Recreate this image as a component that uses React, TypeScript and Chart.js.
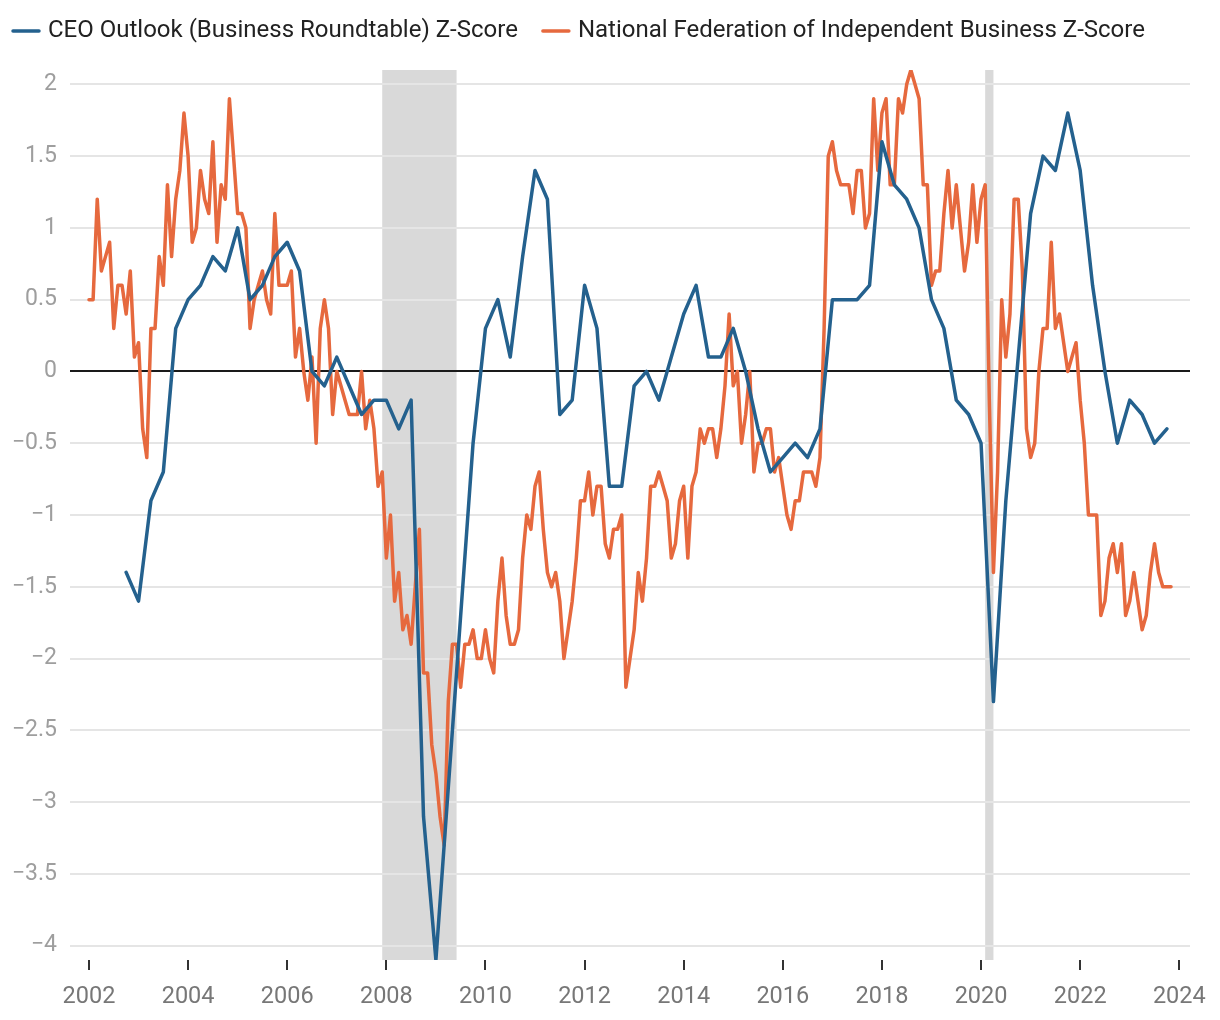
import React, { useEffect, useRef } from "react";
import { Chart, registerables } from "chart.js";

Chart.register(...registerables);

// ---------------- DATA ----------------
const SERIES_LABELS = [
  "CEO Outlook (Business Roundtable) Z-Score",
  "National Federation of Independent Business Z-Score",
];

// CEO Outlook, quarterly, first point Q4 2002
const CEO_START_YEAR = 2002.75;
const CEO_VALUES = [
  -1.4,
  -1.6, -0.9, -0.7, 0.3, // 2003
  0.5, 0.6, 0.8, 0.7, // 2004
  1.0, 0.5, 0.6, 0.8, // 2005
  0.9, 0.7, 0.0, -0.1, // 2006
  0.1, -0.1, -0.3, -0.2, // 2007
  -0.2, -0.4, -0.2, -3.1, // 2008
  -4.1, -2.9, -1.7, -0.5, // 2009
  0.3, 0.5, 0.1, 0.8, // 2010
  1.4, 1.2, -0.3, -0.2, // 2011
  0.6, 0.3, -0.8, -0.8, // 2012
  -0.1, 0.0, -0.2, 0.1, // 2013
  0.4, 0.6, 0.1, 0.1, // 2014
  0.3, 0.0, -0.4, -0.7, // 2015
  -0.6, -0.5, -0.6, -0.4, // 2016
  0.5, 0.5, 0.5, 0.6, // 2017
  1.6, 1.3, 1.2, 1.0, // 2018
  0.5, 0.3, -0.2, -0.3, // 2019
  -0.5, -2.3, -0.9, 0.1, // 2020
  1.1, 1.5, 1.4, 1.8, // 2021
  1.4, 0.6, 0.0, -0.5, // 2022
  -0.2, -0.3, -0.5, -0.4, // 2023
];

// NFIB, monthly, first point Jan 2002
const NFIB_START_YEAR = 2002;
const NFIB_VALUES = [
  0.5, 0.5, 1.2, 0.7, 0.8, 0.9, 0.3, 0.6, 0.6, 0.4, 0.7, 0.1, // 2002
  0.2, -0.4, -0.6, 0.3, 0.3, 0.8, 0.6, 1.3, 0.8, 1.2, 1.4, 1.8, // 2003
  1.5, 0.9, 1.0, 1.4, 1.2, 1.1, 1.6, 0.9, 1.3, 1.2, 1.9, 1.5, // 2004
  1.1, 1.1, 1.0, 0.3, 0.5, 0.6, 0.7, 0.5, 0.4, 1.1, 0.6, 0.6, // 2005
  0.6, 0.7, 0.1, 0.3, 0.0, -0.2, 0.1, -0.5, 0.3, 0.5, 0.3, -0.3, // 2006
  0.0, -0.1, -0.2, -0.3, -0.3, -0.3, 0.0, -0.4, -0.2, -0.4, -0.8, -0.7, // 2007
  -1.3, -1.0, -1.6, -1.4, -1.8, -1.7, -1.9, -1.5, -1.1, -2.1, -2.1, -2.6, // 2008
  -2.8, -3.1, -3.3, -2.3, -1.9, -1.9, -2.2, -1.9, -1.9, -1.8, -2.0, -2.0, // 2009
  -1.8, -2.0, -2.1, -1.6, -1.3, -1.7, -1.9, -1.9, -1.8, -1.3, -1.0, -1.1, // 2010
  -0.8, -0.7, -1.1, -1.4, -1.5, -1.4, -1.6, -2.0, -1.8, -1.6, -1.3, -0.9, // 2011
  -0.9, -0.7, -1.0, -0.8, -0.8, -1.2, -1.3, -1.1, -1.1, -1.0, -2.2, -2.0, // 2012
  -1.8, -1.4, -1.6, -1.3, -0.8, -0.8, -0.7, -0.8, -0.9, -1.3, -1.2, -0.9, // 2013
  -0.8, -1.3, -0.8, -0.7, -0.4, -0.5, -0.4, -0.4, -0.6, -0.4, -0.1, 0.4, // 2014
  -0.1, 0.0, -0.5, -0.3, 0.0, -0.7, -0.5, -0.5, -0.4, -0.4, -0.7, -0.6, // 2015
  -0.8, -1.0, -1.1, -0.9, -0.9, -0.7, -0.7, -0.7, -0.8, -0.6, 0.3, 1.5, // 2016
  1.6, 1.4, 1.3, 1.3, 1.3, 1.1, 1.4, 1.4, 1.0, 1.1, 1.9, 1.4, // 2017
  1.8, 1.9, 1.3, 1.3, 1.9, 1.8, 2.0, 2.1, 2.0, 1.9, 1.3, 1.3, // 2018
  0.6, 0.7, 0.7, 1.1, 1.4, 1.0, 1.3, 1.0, 0.7, 0.9, 1.3, 0.9, // 2019
  1.2, 1.3, -0.2, -1.4, -0.7, 0.5, 0.1, 0.4, 1.2, 1.2, 0.7, -0.4, // 2020
  -0.6, -0.5, 0.0, 0.3, 0.3, 0.9, 0.3, 0.4, 0.2, 0.0, 0.1, 0.2, // 2021
  -0.2, -0.5, -1.0, -1.0, -1.0, -1.7, -1.6, -1.3, -1.2, -1.4, -1.2, -1.7, // 2022
  -1.6, -1.4, -1.6, -1.8, -1.7, -1.4, -1.2, -1.4, -1.5, -1.5, -1.5, // 2023
];

// Recession periods (decimal years)
const RECESSIONS = [
  [2007.917, 2009.417],
  [2020.083, 2020.25],
];

const X_TICKS = [2002, 2004, 2006, 2008, 2010, 2012, 2014, 2016, 2018, 2020, 2022, 2024];
const Y_TICKS = [-4, -3.5, -3, -2.5, -2, -1.5, -1, -0.5, 0, 0.5, 1, 1.5, 2];

// ---------------- STYLE ----------------
const BLUE = "#24618e";
const ORANGE = "#e6693e";
const FONT = "Roboto";

const recessionPlugin = {
  id: "recessions",
  beforeDraw(chart: any) {
    const { ctx, chartArea } = chart;
    const xs = chart.scales.x;
    ctx.save();
    ctx.fillStyle = "#d9d9d9";
    RECESSIONS.forEach(([a, b]) => {
      const x1 = xs.getPixelForValue(a);
      const x2 = xs.getPixelForValue(b);
      ctx.fillRect(x1, chartArea.top, x2 - x1, chartArea.bottom - chartArea.top);
    });
    ctx.restore();
  },
};

const legendPlugin = {
  id: "topLegend",
  afterDraw(chart: any) {
    const ctx = chart.ctx;
    ctx.save();
    ctx.font = `24px ${FONT}`;
    ctx.textBaseline = "middle";
    ctx.textAlign = "left";
    let x = 4;
    const y = 23;
    chart.data.datasets.forEach((ds: any) => {
      ctx.strokeStyle = ds.borderColor;
      ctx.lineWidth = 3.5;
      ctx.lineCap = "round";
      ctx.beginPath();
      ctx.moveTo(x + 1, y);
      ctx.lineTo(x + 27, y);
      ctx.stroke();
      x += 36;
      ctx.fillStyle = "#222";
      ctx.fillText(ds.label, x, y);
      x += ctx.measureText(ds.label).width + 24;
    });
    ctx.restore();
  },
};

const fmtY = (v: number) => (v < 0 ? "\u2212" + String(Math.abs(v)) : String(v));

export default function App() {
  const ref = useRef<HTMLCanvasElement | null>(null);

  useEffect(() => {
    if (!ref.current) return;
    Chart.defaults.font.family = FONT;
    const ceoData = CEO_VALUES.map((v, i) => ({ x: CEO_START_YEAR + i * 0.25, y: v }));
    const nfibData = NFIB_VALUES.map((v, i) => ({ x: NFIB_START_YEAR + i / 12, y: v }));

    const chart = new Chart(ref.current, {
      type: "line",
      data: {
        datasets: [
          {
            label: SERIES_LABELS[0],
            data: ceoData,
            borderColor: BLUE,
            borderWidth: 3.5,
            pointRadius: 0,
            borderJoinStyle: "round",
            borderCapStyle: "round",
            tension: 0,
          },
          {
            label: SERIES_LABELS[1],
            data: nfibData,
            borderColor: ORANGE,
            borderWidth: 3.5,
            pointRadius: 0,
            borderJoinStyle: "round",
            borderCapStyle: "round",
            tension: 0,
          },
        ],
      },
      options: {
        responsive: false,
        animation: false,
        events: [],
        layout: { padding: { top: 62, right: 22, left: 0, bottom: 0 } },
        plugins: {
          legend: { display: false },
          tooltip: { enabled: false },
        },
        scales: {
          x: {
            type: "linear",
            min: 2001.617,
            max: 2024.216,
            afterBuildTicks: (scale: any) => {
              scale.ticks = X_TICKS.map((v) => ({ value: v }));
            },
            afterFit: (scale: any) => {
              scale.height = 52;
              scale.paddingLeft = 0;
              scale.paddingRight = 0;
            },
            grid: {
              drawOnChartArea: false,
              drawTicks: true,
              tickLength: 10,
              color: "#333",
              lineWidth: 2,
            },
            border: { display: false },
            ticks: {
              color: "#777",
              font: { size: 23.5, family: FONT },
              padding: 13,
              maxRotation: 0,
              autoSkip: false,
              callback: (v: any) => String(v),
            },
          },
          y: {
            type: "linear",
            min: -4.1,
            max: 2.1,
            afterBuildTicks: (scale: any) => {
              scale.ticks = Y_TICKS.map((v) => ({ value: v }));
            },
            afterFit: (scale: any) => {
              scale.width = 62;
              scale.paddingTop = 0;
              scale.paddingBottom = 0;
            },
            grid: {
              drawTicks: false,
              color: (c: any) => (c.tick && c.tick.value === 0 ? "#1a1a1a" : "#e5e5e5"),
              lineWidth: 2,
            },
            border: { display: false },
            ticks: {
              color: "#9e9e9e",
              font: { size: 23, family: FONT },
              padding: 13,
              callback: (v: any) => fmtY(Number(v)),
            },
          },
        },
      },
      plugins: [recessionPlugin, legendPlugin],
    } as any);

    return () => chart.destroy();
  }, []);

  return (
    <div style={{ width: 1204, height: 1004 }}>
      <canvas ref={ref} width={1204} height={1004} style={{ display: "block" }} />
    </div>
  );
}
